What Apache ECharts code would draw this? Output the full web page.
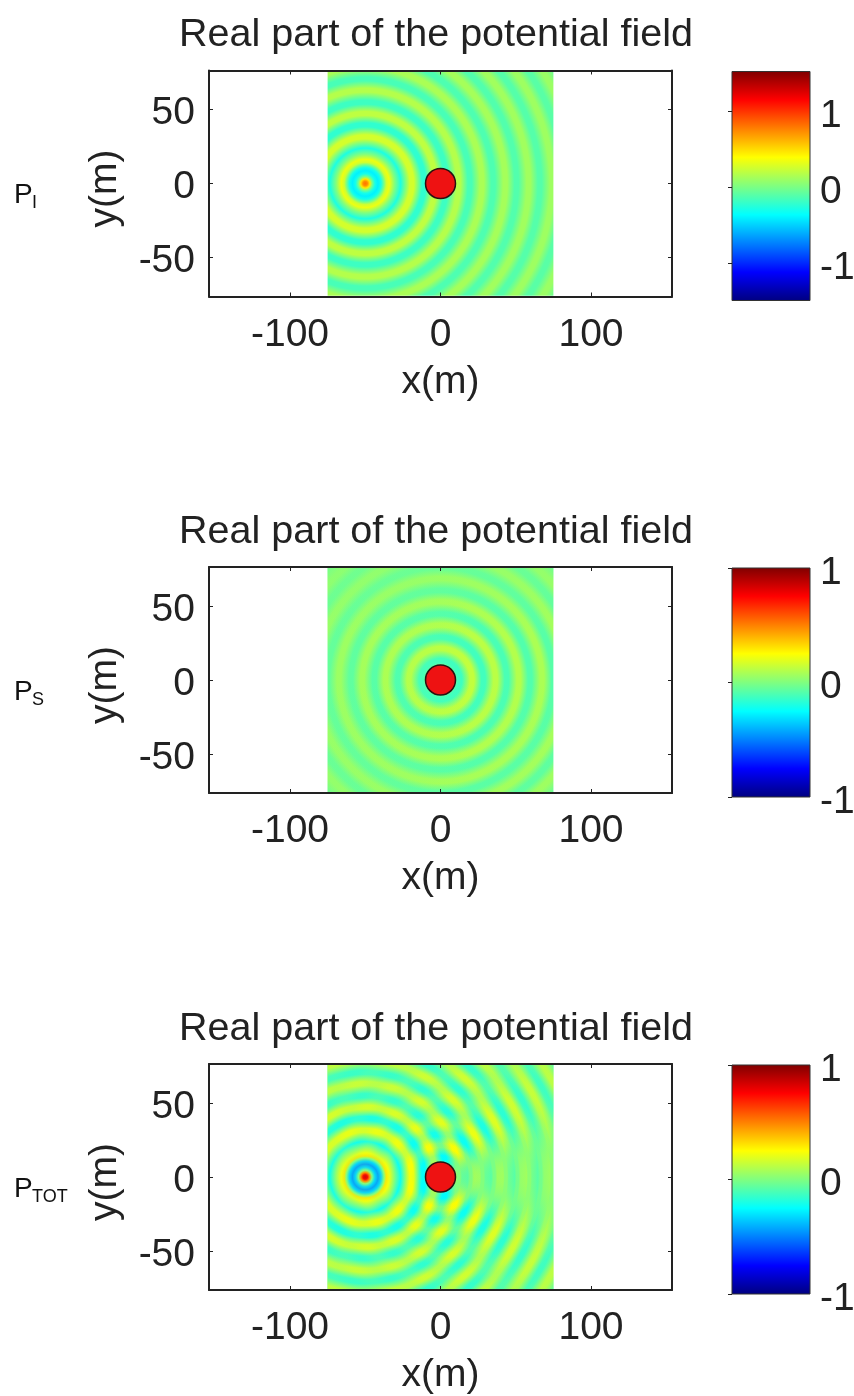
<!DOCTYPE html>
<html>
<head>
<meta charset="utf-8">
<script src="https://cdn.jsdelivr.net/npm/echarts@6/dist/echarts.min.js"></script>
<style>
html,body{margin:0;padding:0;background:#fff;}
#chart{width:854px;height:1396px;}
</style>
</head>
<body>
<div id="chart"></div>
<script>
var titleText = 'Real part of the potential field';
var panelSubs = ['I', 'S', 'TOT'];
var xTicks = [-100, 0, 100];
var yTicks = [-50, 0, 50];
var xRange = [-153.8, 153.8];
var yRange = [-76.5, 76.5];
var fieldX = [-75, 75];
var fieldY = [-76, 76];
var sourceAt = [-50, 0];
var scattererAt = [0, 0];

// colour bars
var barRanges = [[-1.49, 1.52], [-1, 1], [-1, 1]];
var barTicks = [[-1, 0, 1], [-1, 0, 1], [-1, 0, 1]];

// rings: radius (m) and the value there
var incidentRadii = [0, 1.5, 3, 4.5, 6.5, 8.5, 10.5, 12.5, 14, 16, 19.5, 23.5, 31, 39, 46.5, 54, 62, 69.5, 77.5, 85, 93, 100.5, 108.5, 116, 124, 131.5, 139.5, 147];
var incidentValues = [0.8, 0.72, 0.45, 0, -0.3, -0.4, -0.3, 0, 0.25, 0.34, 0.02, -0.28, 0.26, -0.22, 0.2, -0.18, 0.17, -0.15, 0.14, -0.13, 0.125, -0.12, 0.115, -0.11, 0.105, -0.1, 0.095, -0.09];
var scatterRadii = [0, 5.5, 13, 21, 28.5, 36.5, 44, 52, 59.5, 67.5, 75, 83, 90.5, 98, 106];
var scatterValues = [0.08, 0.1, -0.13, 0.13, -0.12, 0.115, -0.105, 0.1, -0.09, 0.085, -0.08, 0.075, -0.07, 0.065, -0.06];

// how much of the incident wave stays on top in the total field, ring by ring
var totalTopOpacity = [0.95, 0.95, 0.95, 0.9, 0.9, 0.9, 0.9, 0.9, 0.85, 0.78, 0.78, 0.78, 0.75, 0.7, 0.6, 0.5, 0.5, 0.5, 0.5, 0.5, 0.5, 0.5, 0.5, 0.5, 0.5, 0.5, 0.5, 0.5];

// the scattered wave is weaker away from the forward direction: green veils as [position, opacity]
var veilsAcross = [null, [[-75, 0.35], [-20, 0.2], [20, 0], [75, 0]], [[-75, 0.55], [-30, 0.4], [-10, 0.1], [10, 0], [75, 0]]];
var veilsUp = [null, [[-76, 0.1], [0, 0], [30, 0], [76, 0.4]], [[-76, 0.7], [-45, 0.55], [-15, 0], [15, 0], [45, 0.55], [76, 0.7]]];

var gridTops = [70.5, 567, 1064];
var barTops = [71.5, 568, 1065];
var font = 'Liberation Sans, Arial, sans-serif';
var ink = '#222';

var jetStops = [
    [0, [0, 0, 127]], [0.125, [0, 0, 255]], [0.375, [0, 255, 255]],
    [0.625, [255, 255, 0]], [0.875, [255, 0, 0]], [1, [127, 0, 0]]
];

function jet(frac, alpha){
    frac = Math.max(0, Math.min(1, frac));
    for(var i = 1; i < jetStops.length; i++){
        if(frac <= jetStops[i][0]){
            var a = jetStops[i-1], b = jetStops[i];
            var t = (frac - a[0]) / (b[0] - a[0]);
            var c = [0, 1, 2].map(function(k){ return Math.round(a[1][k] + (b[1][k] - a[1][k]) * t); });
            return 'rgba(' + c[0] + ',' + c[1] + ',' + c[2] + ',' + (alpha == null ? 1 : alpha) + ')';
        }
    }
}

function ringStops(radii, values, range, gain, opacity){
    var rMax = radii[radii.length-1];
    var stops = [];
    radii.forEach(function(r, i){
        var alpha = opacity ? opacity[i] : 1;
        var v = values[i] * (opacity ? 1 / alpha : gain);
        var frac = (v - range[0]) / (range[1] - range[0]);
        // half see-through colours must stay bright, or they turn olive
        if(opacity && alpha < 0.8){
            frac = Math.max(0.375, Math.min(0.625, frac));
        }
        var color = jet(frac, alpha);
        // wide crests, only where the rings are far apart
        if(i > 0 && i < radii.length-1 && r - radii[i-1] > 6 && radii[i+1] - r > 6){
            stops.push({offset: (r - 1.3) / rMax, color: color});
            stops.push({offset: (r + 1.3) / rMax, color: color});
        }
        else{
            stops.push({offset: r / rMax, color: color});
        }
    });
    return stops;
}

function fieldRect(api){
    var p0 = api.coord([api.value(0), api.value(3)]);
    var p1 = api.coord([api.value(1), api.value(2)]);
    return {x: p0[0], y: p0[1], width: p1[0] - p0[0], height: p1[1] - p0[1]};
}

function boxLayer(idx, makeFill){
    return {
        type: 'custom',
        xAxisIndex: idx * 3,
        yAxisIndex: idx * 3,
        silent: true,
        z: 2,
        data: [[fieldX[0], fieldX[1], fieldY[0], fieldY[1]]],
        encode: {x: [0, 1], y: [2, 3]},
        renderItem: function(params, api){
            return {type: 'rect', shape: fieldRect(api), style: {fill: makeFill(api)}};
        }
    };
}

// one field layer: a rectangle filled with rings round a centre
function fieldLayer(idx, centre, radii, values, range, gain, opacity){
    return boxLayer(idx, function(api){
        var c = api.coord(centre);
        var r = api.size([radii[radii.length-1], 0])[0];
        return new echarts.graphic.RadialGradient(c[0], c[1], r, ringStops(radii, values, range, gain, opacity), true);
    });
}

function veilLayer(idx, stops, extent, vertical){
    return boxLayer(idx, function(){
        var list = stops.map(function(s){
            return {offset: (s[0] - extent[0]) / (extent[1] - extent[0]), color: jet(0.5, s[1])};
        });
        return vertical ? new echarts.graphic.LinearGradient(0, 1, 0, 0, list)
                        : new echarts.graphic.LinearGradient(0, 0, 1, 0, list);
    });
}

function colorBar(idx){
    return {
        type: 'custom',
        xAxisIndex: idx * 3 + 2,
        yAxisIndex: idx * 3 + 2,
        silent: true,
        z: 2,
        data: [[0, barRanges[idx][0], 1, barRanges[idx][1]]],
        encode: {x: [0, 2], y: [1, 3]},
        renderItem: function(params, api){
            var p0 = api.coord([api.value(0), api.value(3)]);
            var p1 = api.coord([api.value(2), api.value(1)]);
            var fill = new echarts.graphic.LinearGradient(0, 1, 0, 0, jetStops.map(function(s){
                return {offset: s[0], color: jet(s[0])};
            }));
            return {type: 'rect', shape: {x: p0[0], y: p0[1], width: p1[0] - p0[0], height: p1[1] - p0[1]}, style: {fill: fill, stroke: '#333', lineWidth: 1}};
        }
    };
}

var option = {
    animation: false,
    backgroundColor: '#fff',
    title: [], grid: [], xAxis: [], yAxis: [], series: [], graphic: []
};

function frameAxis(gridIndex, pos, range, ticks, extra){
    var ax = {
        type: 'value', gridIndex: gridIndex, position: pos, min: range[0], max: range[1], z: 5,
        splitLine: {show: false},
        axisLine: {show: true, onZero: false, lineStyle: {color: ink, width: 2}},
        axisTick: {show: true, inside: true, length: 4, customValues: ticks, lineStyle: {color: ink, width: 1}},
        axisLabel: {show: false}
    };
    for(var k in extra){ ax[k] = extra[k]; }
    return ax;
}

panelSubs.forEach(function(sub, i){
    var gMain = i * 2, gBar = i * 2 + 1;
    option.grid.push({left: 209, top: gridTops[i], width: 463, height: 226, outerBoundsMode: 'none'});
    option.grid.push({left: 732, top: barTops[i], width: 78, height: 229, outerBoundsMode: 'none'});

    option.title.push({
        text: titleText, left: 431, top: gridTops[i] - 60, textAlign: 'center',
        textStyle: {fontFamily: font, fontSize: 39.5, fontWeight: 'normal', color: ink}
    });

    var tickLabel = {show: true, fontFamily: font, fontSize: 39, color: ink};
    // main x, top x, bar x
    option.xAxis.push(frameAxis(gMain, 'bottom', xRange, xTicks, {
        name: 'x(m)', nameLocation: 'middle', nameGap: 66,
        nameTextStyle: {fontFamily: font, fontSize: 39, color: ink},
        axisLabel: Object.assign({margin: 19, customValues: xTicks}, tickLabel)
    }));
    option.xAxis.push(frameAxis(gMain, 'top', xRange, xTicks));
    option.xAxis.push(frameAxis(gBar, 'bottom', [0, 1], [], {axisLine: {show: false}, axisTick: {show: false}}));
    // main y, right y, bar y
    option.yAxis.push(frameAxis(gMain, 'left', yRange, yTicks, {
        name: 'y(m)', nameLocation: 'middle', nameGap: 84,
        nameTextStyle: {fontFamily: font, fontSize: 39, color: ink, padding: [0, 10, 0, 0]},
        axisLabel: Object.assign({margin: 14, verticalAlign: 'top', lineHeight: 8, customValues: yTicks}, tickLabel)
    }));
    option.yAxis.push(frameAxis(gMain, 'right', yRange, yTicks));
    option.yAxis.push(frameAxis(gBar, 'right', barRanges[i], barTicks[i], {
        axisLine: {show: false},
        axisLabel: Object.assign({margin: 10, verticalAlign: 'top', lineHeight: 10, customValues: barTicks[i]}, tickLabel)
    }));

    var range = barRanges[i];
    if(i == 0){
        option.series.push(fieldLayer(i, sourceAt, incidentRadii, incidentValues, range, 1));
    }
    else if(i == 1){
        option.series.push(fieldLayer(i, scattererAt, scatterRadii, scatterValues, range, 1));
        option.series.push(veilLayer(i, veilsAcross[i], fieldX, false));
        option.series.push(veilLayer(i, veilsUp[i], fieldY, true));
    }
    else{
        option.series.push(fieldLayer(i, scattererAt, scatterRadii, scatterValues, range, 2));
        option.series.push(veilLayer(i, veilsAcross[i], fieldX, false));
        option.series.push(veilLayer(i, veilsUp[i], fieldY, true));
        option.series.push(fieldLayer(i, sourceAt, incidentRadii, incidentValues, range, 1, totalTopOpacity));
    }

    // the red scatterer
    option.series.push({
        type: 'scatter', xAxisIndex: i * 3, yAxisIndex: i * 3, silent: true, z: 4,
        symbol: 'circle', symbolSize: 30,
        itemStyle: {color: '#ee1212', borderColor: '#2a1010', borderWidth: 1.5, opacity: 1},
        data: [scattererAt]
    });
    option.series.push(colorBar(i));

    option.graphic.push({
        type: 'text', x: 14, y: gridTops[i] + 111,
        style: {text: 'P', fontFamily: font, fontSize: 28, fill: '#111'}
    });
    option.graphic.push({
        type: 'text', x: 32, y: gridTops[i] + 124,
        style: {text: sub, fontFamily: font, fontSize: 18, fill: '#111'}
    });
});

var myChart = echarts.init(document.getElementById('chart'), null, {renderer: 'canvas'});
myChart.setOption(option);
</script>
</body>
</html>
